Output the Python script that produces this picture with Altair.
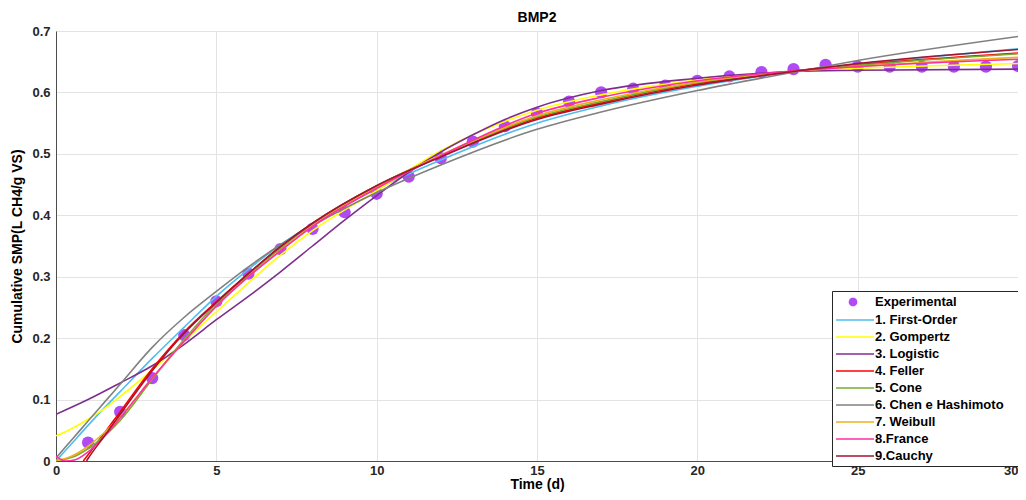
import math
import altair as alt
import pandas as pd

SERIES = ["Experimental", "1. First-Order", "2. Gompertz", "3. Logistic", "4. Feller",
          "5. Cone", "6. Chen e Hashimoto", "7. Weibull", "8.France", "9.Cauchy"]
COLORS = ["#b04af5", "#4dbeee", "#ffff00", "#7e2f8e", "#ff0000",
          "#77ac30", "#808080", "#edb120", "#ff2fa0", "#a2142f"]

EXP_T = list(range(1, 31))
EXP_V = [0.030, 0.080, 0.135, 0.205, 0.260, 0.305, 0.345, 0.378, 0.405, 0.435,
         0.463, 0.493, 0.520, 0.545, 0.566, 0.585, 0.600, 0.606, 0.611, 0.619,
         0.626, 0.633, 0.638, 0.645, 0.642, 0.642, 0.642, 0.642, 0.642, 0.643]

T_STD = [0, 0.5, 1, 1.5, 2, 3, 4, 5, 6, 7, 8, 10, 12, 15, 17, 20, 23, 25, 30]

FIRST_ORDER = [0, 0.029, 0.058, 0.086, 0.113, 0.167, 0.218, 0.268, 0.312, 0.352, 0.386,
               0.443, 0.490, 0.550, 0.578, 0.610, 0.634, 0.646, 0.671]
GOMPERTZ = [0.041, 0.053, 0.068, 0.085, 0.105, 0.148, 0.195, 0.243, 0.290, 0.335, 0.375,
            0.440, 0.505, 0.571, 0.596, 0.620, 0.634, 0.639, 0.647]
CONE = [0, 0.006, 0.020, 0.040, 0.066, 0.133, 0.198, 0.256, 0.303, 0.346, 0.386,
        0.448, 0.497, 0.560, 0.585, 0.616, 0.634, 0.644, 0.663]
CHEN = [0.005, 0.035, 0.065, 0.095, 0.125, 0.185, 0.234, 0.276, 0.316, 0.352, 0.383,
        0.437, 0.482, 0.540, 0.568, 0.603, 0.633, 0.652, 0.691]
WEIBULL = [0, 0.008, 0.024, 0.046, 0.072, 0.135, 0.195, 0.252, 0.300, 0.343, 0.383,
           0.446, 0.498, 0.562, 0.588, 0.617, 0.634, 0.642, 0.657]

LOGISTIC_T = [0, 1, 2, 3, 4, 5, 6, 7, 8, 9, 10, 11, 12, 13, 14, 15, 17, 20, 23, 25, 30]
LOGISTIC = [0.076, 0.100, 0.127, 0.155, 0.190, 0.230, 0.268, 0.308, 0.350, 0.392, 0.432,
            0.470, 0.503, 0.531, 0.556, 0.576, 0.603, 0.623, 0.634, 0.636, 0.638]
FELLER_T = [0.85, 1, 1.5, 2, 3, 4, 5, 6, 7, 8, 10, 12, 15, 17, 20, 23, 25, 30]
FELLER = [0, 0.010, 0.045, 0.080, 0.150, 0.210, 0.259, 0.305, 0.349, 0.387, 0.448,
          0.496, 0.558, 0.583, 0.614, 0.635, 0.645, 0.664]
CAUCHY_T = [0.95, 1, 1.5, 2, 3, 4, 5, 6, 7, 8, 10, 12, 15, 17, 20, 23, 25, 30]
CAUCHY = [0, 0.004, 0.040, 0.076, 0.147, 0.208, 0.258, 0.305, 0.349, 0.387, 0.448,
          0.495, 0.556, 0.581, 0.612, 0.634, 0.647, 0.670]
FRANCE_T = [0, 0.3, 0.6, 1, 1.5, 2, 3, 4, 5, 6, 7, 8, 10, 12, 15, 17, 20, 23, 25, 30]
FRANCE = [0.008, 0.0, 0.002, 0.015, 0.040, 0.070, 0.135, 0.195, 0.252, 0.300, 0.342,
          0.382, 0.444, 0.497, 0.566, 0.592, 0.619, 0.635, 0.642, 0.654]

X_TICKS = [0, 5, 10, 15, 20, 25, 30]
Y_TICKS = [0, 0.1, 0.2, 0.3, 0.4, 0.5, 0.6, 0.7]

models = [
    ("1. First-Order", T_STD, FIRST_ORDER),
    ("2. Gompertz", T_STD, GOMPERTZ),
    ("3. Logistic", LOGISTIC_T, LOGISTIC),
    ("4. Feller", FELLER_T, FELLER),
    ("5. Cone", T_STD, CONE),
    ("6. Chen e Hashimoto", T_STD, CHEN),
    ("7. Weibull", T_STD, WEIBULL),
    ("8.France", FRANCE_T, FRANCE),
    ("9.Cauchy", CAUCHY_T, CAUCHY),
]

rows = []
for name, ts, vs in models:
    for t, v in zip(ts, vs):
        rows.append({"t": t, "v": v, "series": name})
lines_df = pd.DataFrame(rows)
exp_df = pd.DataFrame({"t": EXP_T, "v": EXP_V, "series": "Experimental"})

FONT = "Liberation Sans"
LINE_SYM = "M-1,0H4.43"
# small filled disc (as a polygon) for the legend entry of the experimental points
_pts = [(1.43 + 0.62 * math.cos(2 * math.pi * k / 20), 0.62 * math.sin(2 * math.pi * k / 20))
        for k in range(20)]
DOT_SYM = "M" + "L".join(f"{px:.3f},{py:.3f}" for px, py in _pts) + "Z"

FILL_RANGE = [COLORS[0]] + ["transparent"] * 9
STROKE_RANGE = ["transparent"] + COLORS[1:]
SHAPE_RANGE = [DOT_SYM] + [LINE_SYM] * 9

legend = alt.Legend(
    title=None, orient="none", legendX=776, legendY=260, direction="vertical",
    symbolSize=196, symbolStrokeWidth=1.6, symbolOffset=0,
    labelOffset=24, labelFont=FONT, labelFontSize=13, labelFontWeight="bold",
    labelColor="#000000", padding=3, rowPadding=2, strokeColor="#262626",
    fillColor="white", labelExpr="datum.label + '\u00a0\u00a0\u00a0\u200b'",
)

x_enc = alt.X("t:Q", scale=alt.Scale(domain=[0, 30], nice=False),
              axis=alt.Axis(values=X_TICKS, title="Time (d)", ticks=False, labelPadding=3,
                            labelFlush=False, titlePadding=0,
                            labelAlign={"condition": {"test": "datum.value >= 30", "value": "right"},
                                        "value": "center"}))
y_enc = alt.Y("v:Q", scale=alt.Scale(domain=[0, 0.7], nice=False),
              axis=alt.Axis(values=Y_TICKS, title="Cumulative SMP(L CH4/g VS)", ticks=False,
                            labelPadding=6, format=".1~f", titlePadding=7, labelFlush=False))

fill_enc = alt.Fill("series:N", scale=alt.Scale(domain=SERIES, range=FILL_RANGE), legend=legend)
stroke_enc = alt.Stroke("series:N", scale=alt.Scale(domain=SERIES, range=STROKE_RANGE), legend=legend)
shape_enc = alt.Shape("series:N", scale=alt.Scale(domain=SERIES, range=SHAPE_RANGE), legend=legend)

legend_carrier = alt.Chart(exp_df).mark_point(opacity=0, size=1).encode(
    x=x_enc, y=y_enc, shape=shape_enc)
points = alt.Chart(exp_df).mark_circle(size=150, opacity=1, strokeWidth=0).encode(
    x=x_enc, y=y_enc, fill=fill_enc)
lines = alt.Chart(lines_df).mark_line(strokeWidth=1.6, interpolate="monotone", clip=True).encode(
    x=x_enc, y=y_enc, stroke=stroke_enc, order="t:Q", detail="series:N")

chart = alt.layer(legend_carrier, points, lines).properties(
    width=962, height=430,
    title=alt.TitleParams("BMP2", font=FONT, fontSize=14, fontWeight="bold", color="#000000",
                          offset=0, frame="group", anchor="middle"),
    autosize=alt.AutoSizeParams(type="none"),
    padding={"left": 48, "top": 23, "right": 0, "bottom": 31},
).configure_view(strokeWidth=0).configure_axis(
    labelFont=FONT, labelFontSize=13, labelFontWeight="bold", labelColor="#262626",
    titleFont=FONT, titleFontSize=14, titleFontWeight="bold", titleColor="#000000",
    gridColor="#e3e3e3", gridWidth=1, domainColor="#4d4d4d", domainWidth=1,
)

chart.save("out.html", embed_options={"renderer": "svg", "actions": False})
